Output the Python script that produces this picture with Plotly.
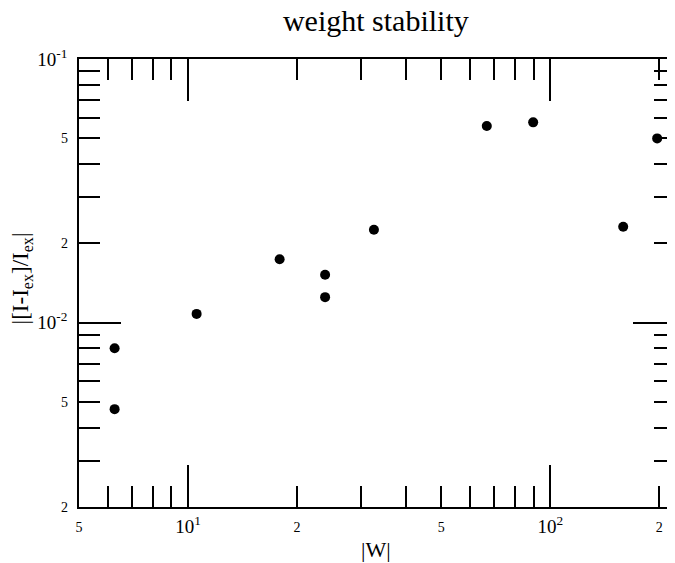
import math
import plotly.graph_objects as go

# |W| vs relative error
w_values = [6.27, 6.27, 10.56, 17.9, 23.9, 23.9, 32.6, 66.8, 89.7, 159.0, 197.3]
err_values = [0.0080, 0.0047, 0.0108, 0.0174, 0.0152, 0.0125, 0.0225, 0.0557, 0.0575, 0.0231, 0.0500]

x_range = [5, 221]
y_range = [0.002, 0.1]

x_decades = [10, 100]
x_decade_labels = ["10<sup>1</sup>", "10<sup>2</sup>"]
x_minor = [6, 7, 8, 9, 20, 30, 40, 50, 60, 70, 80, 90, 200]
x_small_vals = [5, 20, 50, 200]
x_small_labels = ["5", "2", "5", "2"]

y_decades = [0.01, 0.1]
y_decade_labels = ["10<sup>-2</sup>", "10<sup>-1</sup>"]
y_minor = [0.002, 0.003, 0.004, 0.005, 0.006, 0.007, 0.008, 0.009,
           0.02, 0.03, 0.04, 0.05, 0.06, 0.07, 0.08, 0.09]
y_small_vals = [0.002, 0.005, 0.02, 0.05]
y_small_labels = ["2", "5", "2", "5"]

serif = "Liberation Serif, Times New Roman, serif"

fig = go.Figure()
fig.add_trace(go.Scatter(
    x=w_values, y=err_values, mode="markers",
    marker=dict(size=10, color="black"),
    showlegend=False
))

xr = [math.log10(v) for v in x_range]
yr = [math.log10(v) for v in y_range]

main_axis = dict(type="log", showgrid=False, zeroline=False,
                 showline=True, linecolor="black", linewidth=1.5,
                 ticks="inside", tickwidth=1.5, tickcolor="black",
                 ticklen=42, mirror="allticks",
                 tickfont=dict(family=serif, size=19, color="black"))

label_axis = dict(type="log", showgrid=False, zeroline=False, showline=False,
                  ticks="", tickmode="array",
                  tickfont=dict(family=serif, size=14, color="black"))

fig.update_layout(
    width=675, height=563,
    margin=dict(l=71, r=6, t=51, b=64),
    paper_bgcolor="white", plot_bgcolor="white",
    title=dict(text="weight stability", x=0.545, xanchor="center",
               y=0.978, yanchor="middle",
               font=dict(family=serif, size=30, color="black")),
    xaxis=dict(main_axis, range=xr, tickmode="array",
               tickvals=x_decades, ticktext=x_decade_labels,
               ticklabelstandoff=1,
               minor=dict(tickmode="array", tickvals=x_minor, ticks="inside",
                          ticklen=21, tickwidth=1.5, tickcolor="black")),
    yaxis=dict(main_axis, range=yr, tickmode="array",
               tickvals=y_decades, ticktext=y_decade_labels,
               ticklabelstandoff=6,
               minor=dict(tickmode="array", tickvals=y_minor, ticks="inside",
                          ticklen=21, tickwidth=1.5, tickcolor="black")),
    xaxis2=dict(label_axis, range=xr, overlaying="x", side="bottom", anchor="y",
                tickvals=x_small_vals, ticktext=x_small_labels,
                ticklabelstandoff=10),
    yaxis2=dict(label_axis, range=yr, overlaying="y", side="left", anchor="x",
                tickvals=y_small_vals, ticktext=y_small_labels,
                ticklabelstandoff=10),
    annotations=[
        dict(text="|W|", xref="paper", yref="paper", x=0.498, y=-0.094,
             xanchor="center", yanchor="middle", showarrow=False,
             font=dict(family=serif, size=22, color="black")),
        dict(text="|[I-I<sub>ex</sub>]/I<sub>ex</sub>|", xref="paper", yref="paper",
             x=-0.095, y=0.511, xanchor="center", yanchor="middle",
             textangle=-90, showarrow=False,
             font=dict(family=serif, size=23, color="black")),
    ],
)

# invisible trace so the label-only axes get drawn
fig.add_trace(go.Scatter(x=[w_values[0]], y=[err_values[0]], xaxis="x2", yaxis="y2",
                         mode="markers", marker=dict(opacity=0), showlegend=False,
                         hoverinfo="skip"))

fig.write_html("out.html")
